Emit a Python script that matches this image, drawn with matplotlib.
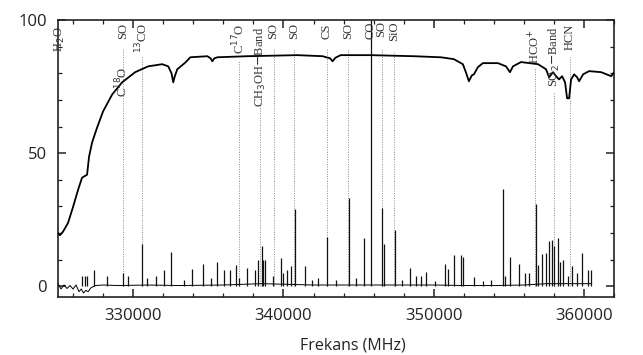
import matplotlib
matplotlib.use('Agg')
import matplotlib.pyplot as plt
from matplotlib.ticker import MultipleLocator

# atmosfaerisk transmission (MHz, %)
trans_f = [325000, 325130, 325330, 325667, 326000, 326333, 326600, 326933, 327067,
           327267, 327600, 328000, 328600, 329267, 330133, 331000, 331933, 332333,
           332550, 332667, 332750, 332933, 333467, 333800, 334933, 335150, 335267,
           335400, 335600, 337600, 340933, 342600, 343100, 343267, 343450, 343800,
           345800, 348667, 350467, 351333, 351933, 352133, 352333, 352533, 352667,
           352933, 353267, 354267, 354800, 355067, 355267, 355800, 356933, 357467,
           357667, 357933, 358133, 358333, 358533, 358733, 358867, 359000, 359133,
           359333, 359533, 359667, 359933, 360333, 361133, 361800, 362000]
trans_v = [20.0, 19.2, 20.5, 23.8, 29.8, 36.2, 40.8, 41.9, 48.7,
           54.0, 59.6, 65.7, 72.0, 76.6, 80.4, 82.6, 83.4, 82.6,
           80.0, 76.6, 78.5, 81.5, 84.0, 86.0, 86.4, 85.6, 84.5,
           85.6, 86.0, 86.4, 86.8, 86.4, 85.6, 84.5, 85.8, 86.8,
           86.8, 86.4, 86.0, 85.3, 83.4, 80.4, 77.0, 79.2, 79.6,
           82.3, 83.8, 83.8, 82.6, 80.4, 82.6, 84.2, 83.4, 81.5,
           78.5, 80.4, 78.9, 77.7, 78.9, 76.6, 70.6, 70.6, 77.7,
           79.6, 78.5, 77.0, 79.6, 80.8, 80.4, 78.9, 80.4]

# spektrum: baslinje och linjer
base_f = [325000, 325200, 325400, 325600, 325800, 326000, 326200, 326400, 326550,
          326700, 326850, 327000, 327200, 327500, 328000, 329000, 331000, 333000,
          336000, 338500, 340000, 342000, 345000, 348000, 350000, 352000, 354000,
          356000, 357500, 359000, 360467]
base_v = [1.0, -1.0, 0.5, -0.8, 0.3, -1.0, 0.5, -2.0, -1.0,
          -2.5, -1.5, -2.0, -0.5, 0.3, 0.5, 0.3, 0.5, 0.3,
          0.5, 1.0, 0.8, 0.5, 0.5, 0.5, 0.5, 0.3, 0.3,
          0.5, 1.0, 1.0, 1.0]

peak_f = [326600, 326800, 326933, 327400, 328267, 329333, 329667, 330600, 330933,
          331533, 332067, 332533, 333400, 333933, 334667, 335200, 335600, 336067,
          336467, 336867, 337067, 337600, 338133, 338333, 338600, 338667, 338800,
          339333, 339867, 340000, 340267, 340467, 340733, 341400, 341900, 342300,
          342867, 343500, 344333, 344800, 345333, 345800, 346533, 346667, 347400,
          347900, 348400, 348800, 349133, 349467, 350100, 350733, 350933, 351333,
          351800, 351933, 352667, 353300, 353800, 354600, 354733, 355067, 355667,
          356067, 356333, 356800, 356933, 357200, 357467, 357667, 357867, 358000,
          358267, 358400, 358600, 358900, 359200, 359533, 359867, 360267, 360467]
peak_v = [4, 4, 4, 6, 4, 5, 4, 16, 3,
          4, 6, 13, 2.5, 6.5, 8.5, 3, 9, 6,
          6, 8, 3, 7, 6, 10, 15, 10, 10,
          4, 10.5, 5, 6, 7.5, 29, 7.5, 2.5, 3,
          18.5, 2.5, 33, 3, 18, 120, 29.5, 16, 21,
          2.5, 7, 4, 4, 5.5, 2, 8.5, 6.5, 11.7,
          11.7, 11, 3.5, 2, 2.5, 36.6, 4, 11, 8.3,
          5, 5, 31, 8, 12, 12.5, 17, 17.5, 15,
          18, 9, 10, 4, 7.5, 5, 12.5, 6, 6]

# molekyler: position, text, textens topp, prickad linjes topp
mol_f = [325150, 329333, 329333, 330588, 337061, 338450, 339341, 340714, 342883,
         344310, 345796, 346528, 347330, 356734, 358000, 359050]
mol_txt = ['H$_2$O', 'C$^{18}$O', 'SO', '$^{13}$CO', 'C$^{17}$O', 'CH$_3$OH$-$Band',
           'SO', 'SO', 'CS', 'SO', 'CO', 'SO', 'SiO', 'HCO$^{+}$', 'SO$_2$$-$Band', 'HCN']
mol_top = [97.5, 82.6, 99.0, 99.0, 98.5, 97.5, 99.0, 99.0, 98.5,
           99.0, 99.5, 99.5, 99.5, 96.5, 97.5, 98.5]
line_top = [None, None, 89, 86, 84.5, 69, 89, 89, 89,
            89, None, 89, 88, 82, 73, 86]

fig = plt.figure(figsize=(6.43, 3.55), dpi=100)
ax = fig.add_axes([0.0902, 0.1634, 0.865, 0.7803])

for f, lt in zip(mol_f, line_top):
    if lt is not None:
        ax.plot([f, f], [0, lt], color='#888888', lw=0.7, ls=(0, (1, 1.5)), zorder=1)

ax.plot(base_f, base_v, color='black', lw=0.7, zorder=2)
ax.vlines(peak_f, 0, peak_v, color='#111111', lw=0.9, zorder=2)
ax.plot(trans_f, trans_v, color='black', lw=1.3, zorder=3)

for f, t, top in zip(mol_f, mol_txt, mol_top):
    dx = -80 if t == 'C$^{18}$O' else 0
    ax.text(f + dx, top, t, rotation=90, ha='center', va='top', fontsize=9,
            family='Liberation Serif', color='#333333', zorder=4)

ax.set_xlim(325000, 362000)
ax.set_ylim(-4, 100)
ax.xaxis.set_major_locator(MultipleLocator(10000))
ax.xaxis.set_minor_locator(MultipleLocator(2000))
ax.yaxis.set_major_locator(MultipleLocator(50))
ax.yaxis.set_minor_locator(MultipleLocator(10))
ax.tick_params(which='both', direction='in', top=True, right=True, colors='#222222',
               labelsize=12)
ax.tick_params(which='major', length=6, width=1.1, pad=8)
ax.tick_params(which='minor', length=3, width=0.9)
for lab in ax.get_xticklabels() + ax.get_yticklabels():
    lab.set_family('Open Sans')
for s in ax.spines.values():
    s.set_linewidth(1.2)
    s.set_color('#222222')

ax.set_xlabel('Frekans (MHz)', family='Open Sans', fontsize=11.5, color='#222222')
ax.xaxis.set_label_coords(0.53, -0.145)

fig.savefig('out.png', dpi=100, facecolor='white')
